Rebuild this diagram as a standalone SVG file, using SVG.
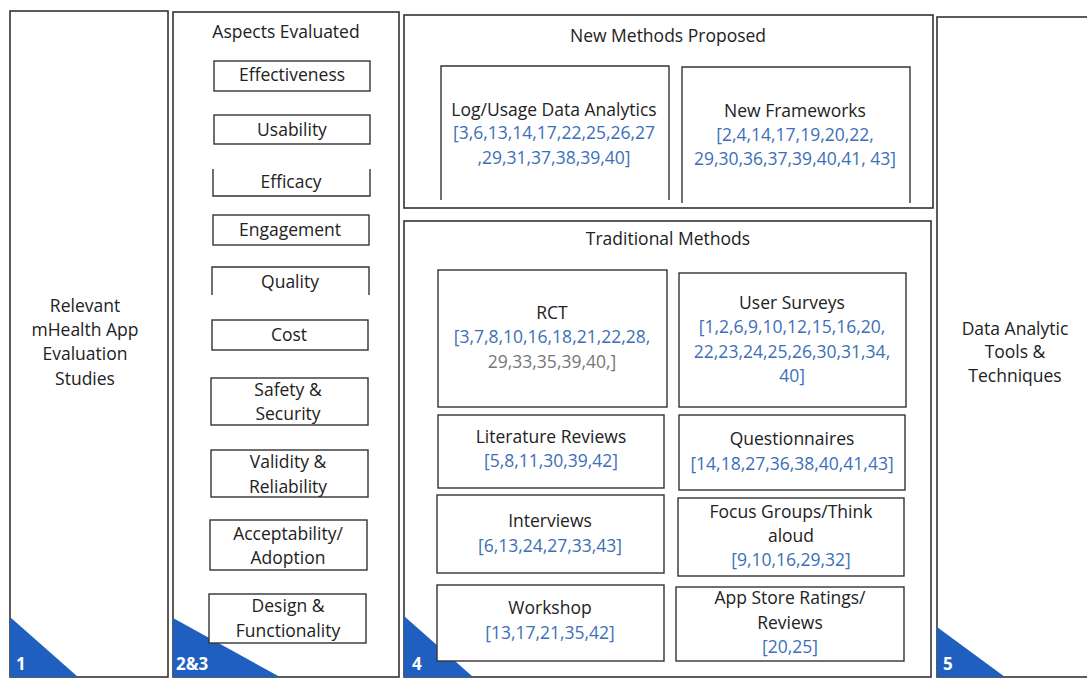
<svg xmlns="http://www.w3.org/2000/svg" width="1087" height="681" viewBox="0 0 1087 681">
<style>
.panel{fill:#fff;stroke:#333;stroke-width:1.6}
.box{fill:#fff;stroke:#333;stroke-width:1.4}
.ln{fill:none;stroke:#333;stroke-width:1.4}
.tri{fill:#1f5fbf}
text{font-family:"Open Sans","Liberation Sans",sans-serif;font-size:17.5px;fill:#222;text-anchor:middle}
.ref{fill:#3d6fb8}
.gr{fill:#777}
.num{fill:#fff;font-weight:bold;text-anchor:start;font-size:17px}
</style>
<rect width="1087" height="681" fill="#fff"/>
<g id="panel1">
<rect class="panel" x="10" y="11" width="158" height="666"/>
<polygon class="tri" points="10,617 10,677 78,677"/>
<text class="num" x="16" y="670">1</text>
<text x="85" y="312">Relevant</text>
<text x="85" y="336">mHealth App</text>
<text x="85" y="360">Evaluation</text>
<text x="85" y="385">Studies</text>
</g>
<g id="panel23">
<rect class="panel" x="173" y="12" width="226" height="665"/>
<polygon class="tri" points="173,618 173,677 280,677"/>
<text class="num" x="176" y="670">2&amp;3</text>
<text x="286" y="38">Aspects Evaluated</text>
</g>
<g id="a-effectiveness"><rect class="box" x="214" y="61" width="156" height="30"/><text x="292" y="81">Effectiveness</text></g>
<g id="a-usability"><rect class="box" x="214" y="115" width="156" height="29"/><text x="292" y="136">Usability</text></g>
<g id="a-efficacy"><path class="ln" d="M213,169 V196 H370 V169"/><text x="291" y="188">Efficacy</text></g>
<g id="a-engagement"><rect class="box" x="213" y="215" width="156" height="30"/><text x="290" y="236">Engagement</text></g>
<g id="a-quality"><path class="ln" d="M212,295 V267 H369 V295"/><text x="290" y="288">Quality</text></g>
<g id="a-cost"><rect class="box" x="212" y="320" width="156" height="30"/><text x="289" y="341">Cost</text></g>
<g id="a-safety"><rect class="box" x="211" y="378" width="157" height="47"/><text x="288" y="396">Safety &amp;</text><text x="288" y="420">Security</text></g>
<g id="a-validity"><rect class="box" x="211" y="450" width="157" height="47"/><text x="288" y="468">Validity &amp;</text><text x="288" y="493">Reliability</text></g>
<g id="a-acceptability"><rect class="box" x="210" y="520" width="157" height="50"/><text x="288" y="540">Acceptability/</text><text x="288" y="564">Adoption</text></g>
<g id="a-design"><rect class="box" x="209" y="594" width="157" height="49"/><text x="288" y="612">Design &amp;</text><text x="288" y="637">Functionality</text></g>
<g id="panel4-new">
<rect class="panel" x="404" y="15" width="529" height="193"/>
<text x="668" y="42">New Methods Proposed</text>
</g>
<g id="m-log"><path class="ln" d="M441,200 V66 H669 V200"/><text x="554" y="116">Log/Usage Data Analytics</text><text class="ref" x="554" y="139">[3,6,13,14,17,22,25,26,27</text><text class="ref" x="554" y="164">,29,31,37,38,39,40]</text></g>
<g id="m-frameworks"><path class="ln" d="M682,203 V67 H910 V203"/><text x="795" y="117">New Frameworks</text><text class="ref" x="795" y="141">[2,4,14,17,19,20,22,</text><text class="ref" x="795" y="165">29,30,36,37,39,40,41, 43]</text></g>
<g id="panel4-trad">
<rect class="panel" x="404" y="221" width="527" height="456"/>
<polygon class="tri" points="404,616 404,677 473,677"/>
<text class="num" x="412" y="670">4</text>
<text x="668" y="245">Traditional Methods</text>
</g>
<g id="t-rct"><rect class="box" x="438" y="270" width="229" height="137"/><text x="552" y="319">RCT</text><text class="ref" x="552" y="343">[3,7,8,10,16,18,21,22,28,</text><text class="gr" x="552" y="368">29,33,35,39,40,]</text></g>
<g id="t-surveys"><rect class="box" x="679" y="273" width="227" height="134"/><text x="792" y="309">User Surveys</text><text class="ref" x="792" y="333">[1,2,6,9,10,12,15,16,20,</text><text class="ref" x="792" y="358">22,23,24,25,26,30,31,34,</text><text class="ref" x="792" y="382">40]</text></g>
<g id="t-literature"><rect class="box" x="438" y="415" width="226" height="73"/><text x="551" y="443">Literature Reviews</text><text class="ref" x="551" y="467">[5,8,11,30,39,42]</text></g>
<g id="t-questionnaires"><rect class="box" x="679" y="415" width="226" height="75"/><text x="792" y="445">Questionnaires</text><text class="ref" x="792" y="470">[14,18,27,36,38,40,41,43]</text></g>
<g id="t-interviews"><rect class="box" x="437" y="495" width="227" height="78"/><text x="550" y="527">Interviews</text><text class="ref" x="550" y="552">[6,13,24,27,33,43]</text></g>
<g id="t-focus"><rect class="box" x="678" y="498" width="226" height="78"/><text x="791" y="518">Focus Groups/Think</text><text x="791" y="542">aloud</text><text class="ref" x="791" y="566">[9,10,16,29,32]</text></g>
<g id="t-workshop"><rect class="box" x="437" y="585" width="227" height="76"/><text x="550" y="614">Workshop</text><text class="ref" x="550" y="639">[13,17,21,35,42]</text></g>
<g id="t-appstore"><rect class="box" x="676" y="587" width="228" height="74"/><text x="790" y="604">App Store Ratings/</text><text x="790" y="629">Reviews</text><text class="ref" x="790" y="653">[20,25]</text></g>
<g id="panel5">
<rect class="panel" x="937" y="17" width="160" height="660"/>
<polygon class="tri" points="937,627 937,677 1005,677"/>
<text class="num" x="943" y="670">5</text>
<text x="1015" y="335">Data Analytic</text>
<text x="1015" y="358">Tools &amp;</text>
<text x="1015" y="382">Techniques</text>
</g>
<g id="connectors"></g>
</svg>
